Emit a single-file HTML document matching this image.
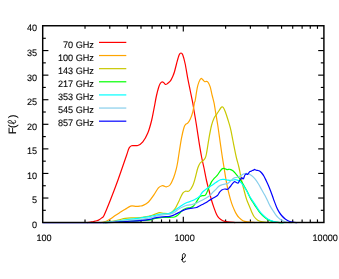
<!DOCTYPE html><html><head><meta charset="utf-8"><style>
html,body{margin:0;padding:0;background:#fff}
#c{position:relative;width:339px;height:279px;overflow:hidden;background:#fff}
svg{display:block}
</style></head><body><div id="c">
<svg width="339" height="279" viewBox="0 0 339 279" style="position:absolute;left:0;top:0">
<g stroke="#000" stroke-width="1.15">
<line x1="85.02" x2="85.02" y1="222.50" y2="219.40"/>
<line x1="85.02" x2="85.02" y1="25.75" y2="28.85"/>
<line x1="109.78" x2="109.78" y1="222.50" y2="219.40"/>
<line x1="109.78" x2="109.78" y1="25.75" y2="28.85"/>
<line x1="127.35" x2="127.35" y1="222.50" y2="219.40"/>
<line x1="127.35" x2="127.35" y1="25.75" y2="28.85"/>
<line x1="140.98" x2="140.98" y1="222.50" y2="219.40"/>
<line x1="140.98" x2="140.98" y1="25.75" y2="28.85"/>
<line x1="152.11" x2="152.11" y1="222.50" y2="219.40"/>
<line x1="152.11" x2="152.11" y1="25.75" y2="28.85"/>
<line x1="161.52" x2="161.52" y1="222.50" y2="219.40"/>
<line x1="161.52" x2="161.52" y1="25.75" y2="28.85"/>
<line x1="169.67" x2="169.67" y1="222.50" y2="219.40"/>
<line x1="169.67" x2="169.67" y1="25.75" y2="28.85"/>
<line x1="176.87" x2="176.87" y1="222.50" y2="219.40"/>
<line x1="176.87" x2="176.87" y1="25.75" y2="28.85"/>
<line x1="183.30" x2="183.30" y1="222.50" y2="216.80"/>
<line x1="183.30" x2="183.30" y1="25.75" y2="31.45"/>
<line x1="225.62" x2="225.62" y1="222.50" y2="219.40"/>
<line x1="225.62" x2="225.62" y1="25.75" y2="28.85"/>
<line x1="250.38" x2="250.38" y1="222.50" y2="219.40"/>
<line x1="250.38" x2="250.38" y1="25.75" y2="28.85"/>
<line x1="267.95" x2="267.95" y1="222.50" y2="219.40"/>
<line x1="267.95" x2="267.95" y1="25.75" y2="28.85"/>
<line x1="281.58" x2="281.58" y1="222.50" y2="219.40"/>
<line x1="281.58" x2="281.58" y1="25.75" y2="28.85"/>
<line x1="292.71" x2="292.71" y1="222.50" y2="219.40"/>
<line x1="292.71" x2="292.71" y1="25.75" y2="28.85"/>
<line x1="302.12" x2="302.12" y1="222.50" y2="219.40"/>
<line x1="302.12" x2="302.12" y1="25.75" y2="28.85"/>
<line x1="310.27" x2="310.27" y1="222.50" y2="219.40"/>
<line x1="310.27" x2="310.27" y1="25.75" y2="28.85"/>
<line x1="317.47" x2="317.47" y1="222.50" y2="219.40"/>
<line x1="317.47" x2="317.47" y1="25.75" y2="28.85"/>
<line x1="42.70" x2="45.80" y1="210.31" y2="210.31"/>
<line x1="323.90" x2="320.80" y1="210.31" y2="210.31"/>
<line x1="42.70" x2="48.40" y1="198.03" y2="198.03"/>
<line x1="323.90" x2="318.20" y1="198.03" y2="198.03"/>
<line x1="42.70" x2="45.80" y1="185.74" y2="185.74"/>
<line x1="323.90" x2="320.80" y1="185.74" y2="185.74"/>
<line x1="42.70" x2="48.40" y1="173.45" y2="173.45"/>
<line x1="323.90" x2="318.20" y1="173.45" y2="173.45"/>
<line x1="42.70" x2="45.80" y1="161.16" y2="161.16"/>
<line x1="323.90" x2="320.80" y1="161.16" y2="161.16"/>
<line x1="42.70" x2="48.40" y1="148.88" y2="148.88"/>
<line x1="323.90" x2="318.20" y1="148.88" y2="148.88"/>
<line x1="42.70" x2="45.80" y1="136.59" y2="136.59"/>
<line x1="323.90" x2="320.80" y1="136.59" y2="136.59"/>
<line x1="42.70" x2="48.40" y1="124.30" y2="124.30"/>
<line x1="323.90" x2="318.20" y1="124.30" y2="124.30"/>
<line x1="42.70" x2="45.80" y1="112.01" y2="112.01"/>
<line x1="323.90" x2="320.80" y1="112.01" y2="112.01"/>
<line x1="42.70" x2="48.40" y1="99.72" y2="99.72"/>
<line x1="323.90" x2="318.20" y1="99.72" y2="99.72"/>
<line x1="42.70" x2="45.80" y1="87.44" y2="87.44"/>
<line x1="323.90" x2="320.80" y1="87.44" y2="87.44"/>
<line x1="42.70" x2="48.40" y1="75.15" y2="75.15"/>
<line x1="323.90" x2="318.20" y1="75.15" y2="75.15"/>
<line x1="42.70" x2="45.80" y1="62.86" y2="62.86"/>
<line x1="323.90" x2="320.80" y1="62.86" y2="62.86"/>
<line x1="42.70" x2="48.40" y1="50.57" y2="50.57"/>
<line x1="323.90" x2="318.20" y1="50.57" y2="50.57"/>
<line x1="42.70" x2="45.80" y1="38.29" y2="38.29"/>
<line x1="323.90" x2="320.80" y1="38.29" y2="38.29"/>
</g>
<g fill="none" stroke-width="1.2" stroke-linejoin="round" stroke-linecap="butt">
<path d="M87.20 222.60 C87.78 222.50 89.62 222.18 90.70 222.00 C91.78 221.82 92.70 221.70 93.70 221.50 C94.70 221.30 95.78 221.10 96.70 220.80 C97.62 220.50 98.37 220.18 99.20 219.70 C100.03 219.22 100.90 218.62 101.70 217.90 C102.50 217.18 102.58 218.30 104.00 215.40 C105.42 212.50 107.90 206.32 110.20 200.50 C112.50 194.68 115.08 188.00 117.80 180.50 C120.52 173.00 124.63 160.88 126.50 155.50 C128.37 150.12 128.17 149.83 129.00 148.20 C129.83 146.57 130.03 146.15 131.50 145.70 C132.97 145.25 135.92 146.13 137.80 145.50 C139.68 144.87 141.13 143.97 142.80 141.90 C144.47 139.83 146.33 136.67 147.80 133.10 C149.27 129.53 150.55 124.67 151.60 120.50 C152.65 116.33 153.30 112.18 154.10 108.10 C154.90 104.02 155.65 99.43 156.40 96.00 C157.15 92.57 157.98 89.53 158.60 87.50 C159.22 85.47 159.57 84.72 160.10 83.80 C160.63 82.88 161.22 82.22 161.80 82.00 C162.38 81.78 162.97 82.08 163.60 82.50 C164.23 82.92 164.95 84.33 165.60 84.50 C166.25 84.67 166.82 83.97 167.50 83.50 C168.18 83.03 169.08 82.35 169.70 81.70 C170.32 81.05 170.72 80.43 171.20 79.60 C171.68 78.77 172.07 77.97 172.60 76.70 C173.13 75.43 173.73 74.20 174.40 72.00 C175.07 69.80 175.82 66.33 176.60 63.50 C177.38 60.67 178.37 56.75 179.10 55.00 C179.83 53.25 180.38 53.00 181.00 53.00 C181.62 53.00 182.10 53.17 182.80 55.00 C183.50 56.83 184.38 60.15 185.20 64.00 C186.02 67.85 186.87 73.68 187.70 78.10 C188.53 82.52 189.35 86.32 190.20 90.50 C191.05 94.68 192.17 99.87 192.80 103.20 C193.43 106.53 193.38 106.78 194.00 110.50 C194.62 114.22 195.67 120.27 196.50 125.50 C197.33 130.73 198.17 136.73 199.00 141.90 C199.83 147.07 200.67 152.15 201.50 156.50 C202.33 160.85 203.17 164.00 204.00 168.00 C204.83 172.00 205.67 176.75 206.50 180.50 C207.33 184.25 208.15 187.17 209.00 190.50 C209.85 193.83 210.75 197.57 211.60 200.50 C212.45 203.43 213.27 205.78 214.10 208.10 C214.93 210.42 215.77 212.72 216.60 214.40 C217.43 216.08 218.07 217.15 219.10 218.20 C220.13 219.25 221.35 220.08 222.80 220.70 C224.25 221.32 225.73 221.58 227.80 221.90 C229.87 222.22 233.97 222.48 235.20 222.60" stroke="#ff0000"/>
<path d="M100.20 222.60 C100.78 222.50 102.53 222.30 103.70 222.00 C104.87 221.70 106.12 221.28 107.20 220.80 C108.28 220.32 108.87 219.98 110.20 219.10 C111.53 218.22 113.53 216.63 115.20 215.50 C116.87 214.37 118.53 213.35 120.20 212.30 C121.87 211.25 123.47 210.23 125.20 209.20 C126.93 208.17 128.80 206.58 130.60 206.10 C132.40 205.62 134.48 206.30 136.00 206.30 C137.52 206.30 138.52 206.25 139.70 206.10 C140.88 205.95 141.63 206.08 143.10 205.40 C144.57 204.72 146.70 203.75 148.50 202.00 C150.30 200.25 152.25 197.25 153.90 194.90 C155.55 192.55 157.07 189.43 158.40 187.90 C159.73 186.37 160.93 186.00 161.90 185.70 C162.87 185.40 163.45 185.92 164.20 186.10 C164.95 186.28 165.43 186.98 166.40 186.80 C167.37 186.62 168.80 186.50 170.00 185.00 C171.20 183.50 172.55 180.48 173.60 177.80 C174.65 175.12 175.62 171.53 176.30 168.90 C176.98 166.27 177.25 164.57 177.70 162.00 C178.15 159.43 178.37 157.48 179.00 153.50 C179.63 149.52 180.67 142.43 181.50 138.10 C182.33 133.77 183.30 129.80 184.00 127.50 C184.70 125.20 185.08 125.03 185.70 124.30 C186.32 123.57 186.95 123.93 187.70 123.10 C188.45 122.27 189.35 121.18 190.20 119.30 C191.05 117.42 192.08 114.60 192.80 111.80 C193.52 109.00 194.10 104.38 194.50 102.50 C194.90 100.62 194.75 102.90 195.20 100.50 C195.65 98.10 196.57 91.20 197.20 88.10 C197.83 85.00 198.37 83.50 199.00 81.90 C199.63 80.30 200.37 78.85 201.00 78.50 C201.63 78.15 202.17 79.27 202.80 79.80 C203.43 80.33 204.18 81.43 204.80 81.70 C205.42 81.97 205.93 81.27 206.50 81.40 C207.07 81.53 207.58 81.58 208.20 82.50 C208.82 83.42 209.53 84.73 210.20 86.90 C210.87 89.07 211.55 92.78 212.20 95.50 C212.85 98.22 213.58 100.70 214.10 103.20 C214.62 105.70 214.68 106.78 215.30 110.50 C215.92 114.22 216.97 120.07 217.80 125.50 C218.63 130.93 219.58 138.10 220.30 143.10 C221.02 148.10 221.47 151.35 222.10 155.50 C222.73 159.65 223.35 163.40 224.10 168.00 C224.85 172.60 225.77 178.72 226.60 183.10 C227.43 187.48 228.27 190.97 229.10 194.30 C229.93 197.63 230.77 200.58 231.60 203.10 C232.43 205.62 233.27 207.52 234.10 209.40 C234.93 211.28 235.77 213.02 236.60 214.40 C237.43 215.78 238.05 216.65 239.10 217.70 C240.15 218.75 241.43 220.00 242.90 220.70 C244.37 221.40 245.85 221.58 247.90 221.90 C249.95 222.22 253.98 222.48 255.20 222.60" stroke="#ffa500"/>
<path d="M103.20 222.60 C104.37 222.45 107.70 222.12 110.20 221.70 C112.70 221.28 115.70 220.67 118.20 220.10 C120.70 219.53 122.87 218.68 125.20 218.30 C127.53 217.92 129.70 217.90 132.20 217.80 C134.70 217.70 137.87 217.88 140.20 217.70 C142.53 217.52 144.53 217.02 146.20 216.70 C147.87 216.38 148.70 216.23 150.20 215.80 C151.70 215.37 153.63 214.63 155.20 214.10 C156.77 213.57 158.13 212.72 159.60 212.60 C161.07 212.48 162.28 213.27 164.00 213.40 C165.72 213.53 168.42 213.78 169.90 213.40 C171.38 213.02 171.92 212.08 172.90 211.10 C173.88 210.12 174.82 209.10 175.80 207.50 C176.78 205.90 177.93 203.35 178.80 201.50 C179.67 199.65 180.27 197.87 181.00 196.40 C181.73 194.93 182.47 193.57 183.20 192.70 C183.93 191.83 184.40 191.50 185.40 191.20 C186.40 190.90 187.97 191.85 189.20 190.90 C190.43 189.95 191.80 187.63 192.80 185.50 C193.80 183.37 194.37 181.02 195.20 178.10 C196.03 175.18 196.97 170.52 197.80 168.00 C198.63 165.48 199.37 164.17 200.20 163.00 C201.03 161.83 201.97 161.83 202.80 161.00 C203.63 160.17 204.58 159.25 205.20 158.00 C205.82 156.75 205.87 156.82 206.50 153.50 C207.13 150.18 208.17 142.77 209.00 138.10 C209.83 133.43 210.65 128.85 211.50 125.50 C212.35 122.15 213.25 119.87 214.10 118.00 C214.95 116.13 215.77 115.55 216.60 114.30 C217.43 113.05 218.27 111.72 219.10 110.50 C219.93 109.28 220.90 107.50 221.60 107.00 C222.30 106.50 222.68 106.70 223.30 107.50 C223.92 108.30 224.55 109.83 225.30 111.80 C226.05 113.77 226.95 116.58 227.80 119.30 C228.65 122.02 229.55 124.57 230.40 128.10 C231.25 131.63 232.07 136.33 232.90 140.50 C233.73 144.67 234.78 150.10 235.40 153.10 C236.02 156.10 235.98 156.02 236.60 158.50 C237.22 160.98 238.27 164.33 239.10 168.00 C239.93 171.67 240.77 176.75 241.60 180.50 C242.43 184.25 243.27 187.35 244.10 190.50 C244.93 193.65 245.77 196.90 246.60 199.40 C247.43 201.90 248.25 203.42 249.10 205.50 C249.95 207.58 250.88 210.07 251.70 211.90 C252.52 213.73 253.00 215.12 254.00 216.50 C255.00 217.88 256.23 219.30 257.70 220.20 C259.17 221.10 260.72 221.50 262.80 221.90 C264.88 222.30 268.97 222.48 270.20 222.60" stroke="#c8c800"/>
<path d="M105.20 222.60 C106.70 222.50 110.87 222.22 114.20 222.00 C117.53 221.78 120.87 221.53 125.20 221.30 C129.53 221.07 136.03 220.85 140.20 220.60 C144.37 220.35 147.70 220.15 150.20 219.80 C152.70 219.45 153.13 218.88 155.20 218.50 C157.27 218.12 160.15 217.70 162.60 217.50 C165.05 217.30 167.93 217.38 169.90 217.30 C171.87 217.22 173.17 217.28 174.40 217.00 C175.63 216.72 176.32 216.33 177.30 215.60 C178.28 214.87 179.32 213.58 180.30 212.60 C181.28 211.62 182.22 210.43 183.20 209.70 C184.18 208.97 184.97 208.57 186.20 208.20 C187.43 207.83 189.38 207.87 190.60 207.50 C191.82 207.13 192.63 206.75 193.50 206.00 C194.37 205.25 195.05 204.12 195.80 203.00 C196.55 201.88 197.27 200.40 198.00 199.30 C198.73 198.20 199.47 197.00 200.20 196.40 C200.93 195.80 201.50 195.95 202.40 195.70 C203.30 195.45 204.58 196.10 205.60 194.90 C206.62 193.70 207.52 190.67 208.50 188.50 C209.48 186.33 210.52 183.62 211.50 181.90 C212.48 180.18 213.42 179.32 214.40 178.20 C215.38 177.08 216.42 176.43 217.40 175.20 C218.38 173.97 219.45 171.90 220.30 170.80 C221.15 169.70 221.77 168.97 222.50 168.60 C223.23 168.23 223.95 168.43 224.70 168.60 C225.45 168.77 226.13 169.48 227.00 169.60 C227.87 169.72 228.92 169.10 229.90 169.30 C230.88 169.50 231.92 170.05 232.90 170.80 C233.88 171.55 234.82 172.68 235.80 173.80 C236.78 174.92 237.82 176.15 238.80 177.50 C239.78 178.85 240.72 180.32 241.70 181.90 C242.68 183.48 243.72 185.28 244.70 187.00 C245.68 188.72 246.72 190.45 247.60 192.20 C248.48 193.95 249.23 195.98 250.00 197.50 C250.77 199.02 251.28 199.83 252.20 201.30 C253.12 202.77 254.35 204.58 255.50 206.30 C256.65 208.02 257.92 210.07 259.10 211.60 C260.28 213.13 261.43 214.37 262.60 215.50 C263.77 216.63 264.93 217.58 266.10 218.40 C267.27 219.22 268.42 219.87 269.60 220.40 C270.78 220.93 271.85 221.28 273.20 221.60 C274.55 221.92 276.03 222.13 277.70 222.30 C279.37 222.47 282.28 222.55 283.20 222.60" stroke="#00ff00"/>
<path d="M103.20 222.60 C104.70 222.45 109.37 222.02 112.20 221.70 C115.03 221.38 118.03 221.02 120.20 220.70 C122.37 220.38 122.70 220.13 125.20 219.80 C127.70 219.47 132.70 219.00 135.20 218.70 C137.70 218.40 138.53 218.25 140.20 218.00 C141.87 217.75 143.53 217.48 145.20 217.20 C146.87 216.92 148.53 216.62 150.20 216.30 C151.87 215.98 153.38 215.67 155.20 215.30 C157.02 214.93 159.13 214.35 161.10 214.10 C163.07 213.85 165.28 214.05 167.00 213.80 C168.72 213.55 170.17 213.17 171.40 212.60 C172.63 212.03 173.17 211.25 174.40 210.40 C175.63 209.55 177.33 208.48 178.80 207.50 C180.27 206.52 181.73 205.37 183.20 204.50 C184.67 203.63 186.12 202.92 187.60 202.30 C189.08 201.68 190.62 201.42 192.10 200.80 C193.58 200.18 195.28 199.33 196.50 198.60 C197.72 197.87 198.38 197.50 199.40 196.40 C200.42 195.30 201.33 193.32 202.60 192.00 C203.87 190.68 205.52 189.57 207.00 188.50 C208.48 187.43 210.02 186.58 211.50 185.60 C212.98 184.62 214.43 183.58 215.90 182.60 C217.37 181.62 218.95 180.23 220.30 179.70 C221.65 179.17 222.77 179.33 224.00 179.40 C225.23 179.47 226.47 179.93 227.70 180.10 C228.93 180.27 230.17 180.47 231.40 180.40 C232.63 180.33 234.00 179.70 235.10 179.70 C236.20 179.70 237.02 179.92 238.00 180.40 C238.98 180.88 240.02 181.62 241.00 182.60 C241.98 183.58 242.92 184.85 243.90 186.30 C244.88 187.75 246.05 189.80 246.90 191.30 C247.75 192.80 248.05 193.72 249.00 195.30 C249.95 196.88 251.42 199.00 252.60 200.80 C253.78 202.60 254.92 204.33 256.10 206.10 C257.28 207.87 258.52 209.87 259.70 211.40 C260.88 212.93 262.03 214.17 263.20 215.30 C264.37 216.43 265.53 217.37 266.70 218.20 C267.87 219.03 269.02 219.75 270.20 220.30 C271.38 220.85 272.47 221.17 273.80 221.50 C275.13 221.83 276.47 222.12 278.20 222.30 C279.93 222.48 283.20 222.55 284.20 222.60" stroke="#00ffff"/>
<path d="M104.20 222.60 C105.53 222.47 108.70 222.15 112.20 221.80 C115.70 221.45 120.53 220.88 125.20 220.50 C129.87 220.12 136.03 219.95 140.20 219.50 C144.37 219.05 147.70 218.33 150.20 217.80 C152.70 217.27 153.13 216.80 155.20 216.30 C157.27 215.80 160.15 215.17 162.60 214.80 C165.05 214.43 167.93 214.52 169.90 214.10 C171.87 213.68 172.92 213.17 174.40 212.30 C175.88 211.43 177.33 209.83 178.80 208.90 C180.27 207.97 181.73 207.32 183.20 206.70 C184.67 206.08 186.12 205.57 187.60 205.20 C189.08 204.83 190.62 204.87 192.10 204.50 C193.58 204.13 195.03 203.62 196.50 203.00 C197.97 202.38 199.45 201.53 200.90 200.80 C202.35 200.07 203.68 199.48 205.20 198.60 C206.72 197.72 208.72 196.57 210.00 195.50 C211.28 194.43 211.92 193.23 212.90 192.20 C213.88 191.17 214.92 190.28 215.90 189.30 C216.88 188.32 217.82 187.05 218.80 186.30 C219.78 185.55 220.82 185.17 221.80 184.80 C222.78 184.43 223.72 184.33 224.70 184.10 C225.68 183.87 226.72 183.90 227.70 183.40 C228.68 182.90 229.62 181.97 230.60 181.10 C231.58 180.23 232.73 178.80 233.60 178.20 C234.47 177.60 235.07 177.70 235.80 177.50 C236.53 177.30 237.27 177.25 238.00 177.00 C238.73 176.75 239.20 176.55 240.20 176.00 C241.20 175.45 242.75 174.12 244.00 173.70 C245.25 173.28 246.45 173.20 247.70 173.50 C248.95 173.80 250.25 174.57 251.50 175.50 C252.75 176.43 253.98 177.60 255.20 179.10 C256.42 180.60 257.72 182.72 258.80 184.50 C259.88 186.28 260.67 187.97 261.70 189.80 C262.73 191.63 264.02 193.67 265.00 195.50 C265.98 197.33 266.73 199.03 267.60 200.80 C268.47 202.57 269.32 204.48 270.20 206.10 C271.08 207.72 272.00 209.08 272.90 210.50 C273.80 211.92 274.72 213.42 275.60 214.60 C276.48 215.78 277.32 216.75 278.20 217.60 C279.08 218.45 279.87 219.05 280.90 219.70 C281.93 220.35 283.22 221.07 284.40 221.50 C285.58 221.93 286.70 222.12 288.00 222.30 C289.30 222.48 291.50 222.55 292.20 222.60" stroke="#87ceeb"/>
<path d="M42.70 222.60 C53.28 222.60 93.95 222.68 106.20 222.60 C118.45 222.52 113.03 222.28 116.20 222.10 C119.37 221.92 121.20 221.73 125.20 221.50 C129.20 221.27 136.03 221.07 140.20 220.70 C144.37 220.33 147.70 219.78 150.20 219.30 C152.70 218.82 153.13 218.22 155.20 217.80 C157.27 217.38 160.15 217.05 162.60 216.80 C165.05 216.55 167.93 216.63 169.90 216.30 C171.87 215.97 172.92 215.42 174.40 214.80 C175.88 214.18 177.33 213.33 178.80 212.60 C180.27 211.87 181.73 211.02 183.20 210.40 C184.67 209.78 186.12 209.27 187.60 208.90 C189.08 208.53 190.62 208.43 192.10 208.20 C193.58 207.97 195.28 207.87 196.50 207.50 C197.72 207.13 198.42 206.50 199.40 206.00 C200.38 205.50 201.43 205.00 202.40 204.50 C203.37 204.00 204.07 203.67 205.20 203.00 C206.33 202.33 207.87 201.33 209.20 200.50 C210.53 199.67 211.83 198.83 213.20 198.00 C214.57 197.17 216.33 196.47 217.40 195.50 C218.47 194.53 218.87 193.12 219.60 192.20 C220.33 191.28 220.95 190.53 221.80 190.00 C222.65 189.47 223.72 189.12 224.70 189.00 C225.68 188.88 226.83 189.63 227.70 189.30 C228.57 188.97 229.17 187.87 229.90 187.00 C230.63 186.13 231.37 184.98 232.10 184.10 C232.83 183.22 233.73 182.05 234.30 181.70 C234.87 181.35 234.87 181.77 235.50 182.00 C236.13 182.23 237.45 183.32 238.10 183.10 C238.75 182.88 239.02 181.30 239.40 180.70 C239.78 180.10 240.00 180.00 240.40 179.50 C240.80 179.00 241.32 177.80 241.80 177.70 C242.28 177.60 242.80 179.32 243.30 178.90 C243.80 178.48 244.30 176.03 244.80 175.20 C245.30 174.37 245.82 174.02 246.30 173.90 C246.78 173.78 247.28 174.68 247.70 174.50 C248.12 174.32 248.43 173.30 248.80 172.80 C249.17 172.30 249.50 171.75 249.90 171.50 C250.30 171.25 250.82 171.47 251.20 171.30 C251.58 171.13 251.83 170.67 252.20 170.50 C252.57 170.33 253.03 170.48 253.40 170.30 C253.77 170.12 254.00 169.45 254.40 169.40 C254.80 169.35 255.32 169.83 255.80 170.00 C256.28 170.17 256.68 170.25 257.30 170.40 C257.92 170.55 258.77 170.47 259.50 170.90 C260.23 171.33 260.95 172.10 261.70 173.00 C262.45 173.90 263.25 175.02 264.00 176.30 C264.75 177.58 265.47 179.17 266.20 180.70 C266.93 182.23 267.67 183.78 268.40 185.50 C269.13 187.22 269.87 189.08 270.60 191.00 C271.33 192.92 272.23 195.42 272.80 197.00 C273.37 198.58 273.38 198.85 274.00 200.50 C274.62 202.15 275.67 205.00 276.50 206.90 C277.33 208.80 278.15 210.47 279.00 211.90 C279.85 213.33 280.57 214.33 281.60 215.50 C282.63 216.67 283.95 217.95 285.20 218.90 C286.45 219.85 287.83 220.65 289.10 221.20 C290.37 221.75 291.45 221.97 292.80 222.20 C294.15 222.43 296.47 222.53 297.20 222.60" stroke="#0000ff"/>
</g>
<g stroke-width="1.2">
<line x1="99" x2="126.3" y1="42.40" y2="42.40" stroke="#ff0000"/>
<line x1="99" x2="126.3" y1="55.53" y2="55.53" stroke="#ffa500"/>
<line x1="99" x2="126.3" y1="68.66" y2="68.66" stroke="#c8c800"/>
<line x1="99" x2="126.3" y1="81.79" y2="81.79" stroke="#00ff00"/>
<line x1="99" x2="126.3" y1="94.92" y2="94.92" stroke="#00ffff"/>
<line x1="99" x2="126.3" y1="108.05" y2="108.05" stroke="#87ceeb"/>
<line x1="99" x2="126.3" y1="121.18" y2="121.18" stroke="#0000ff"/>
</g>
<g stroke="#000" stroke-width="1.45" fill="none">
<rect x="42.70" y="25.75" width="281.20" height="196.75"/>
</g>
<g font-family="Liberation Sans, sans-serif" font-size="9.3" fill="#000" stroke="#000" stroke-width="0.12" text-rendering="geometricPrecision" opacity="0.999">
<text transform="translate(37.10 227.95) scale(0.980 1)" text-anchor="end">0</text>
<text transform="translate(37.10 203.38) scale(0.980 1)" text-anchor="end">5</text>
<text transform="translate(37.10 178.80) scale(0.980 1)" text-anchor="end">10</text>
<text transform="translate(37.10 154.22) scale(0.980 1)" text-anchor="end">15</text>
<text transform="translate(37.10 129.65) scale(0.980 1)" text-anchor="end">20</text>
<text transform="translate(37.10 105.07) scale(0.980 1)" text-anchor="end">25</text>
<text transform="translate(37.10 80.50) scale(0.980 1)" text-anchor="end">30</text>
<text transform="translate(37.10 55.92) scale(0.980 1)" text-anchor="end">35</text>
<text transform="translate(37.10 31.35) scale(0.980 1)" text-anchor="end">40</text>
<text transform="translate(44.00 240.70) scale(0.980 1)" text-anchor="middle">100</text>
<text transform="translate(184.60 240.70) scale(0.980 1)" text-anchor="middle">1000</text>
<text transform="translate(325.20 240.70) scale(0.980 1)" text-anchor="middle">10000</text>
<text transform="translate(93.90 47.50) scale(0.980 1)" text-anchor="end">70 GHz</text>
<text transform="translate(93.90 60.63) scale(0.980 1)" text-anchor="end">100 GHz</text>
<text transform="translate(93.90 73.76) scale(0.980 1)" text-anchor="end">143 GHz</text>
<text transform="translate(93.90 86.89) scale(0.980 1)" text-anchor="end">217 GHz</text>
<text transform="translate(93.90 100.02) scale(0.980 1)" text-anchor="end">353 GHz</text>
<text transform="translate(93.90 113.15) scale(0.980 1)" text-anchor="end">545 GHz</text>
<text transform="translate(93.90 126.28) scale(0.980 1)" text-anchor="end">857 GHz</text>
<g transform="translate(15.6 133.9) rotate(-90)" font-size="10.7"><text x="0" y="0">F</text><text x="6.0" y="0">(</text><text x="15.6" y="0">)</text></g>
<path transform="translate(15.60 123.80) rotate(-90) scale(0.900)" d="M3.94 -0.78 C3.2 -0.1 2.6 0.1 2.04 0.05 C1.2 -0.05 0.8 -0.6 0.8 -1.5 L0.8 -5.7 C0.8 -7 1.1 -8.0 1.8 -8.3 C2.6 -8.6 3.6 -8.2 3.7 -7.0 C3.75 -6.2 3.5 -5.5 3.1 -4.9 C2.6 -4.2 2.2 -3.7 1.6 -3.26 C1.0 -2.8 0.4 -2.5 -0.2 -2.26" fill="none" stroke="#000" stroke-width="1.0" stroke-linecap="round" stroke-linejoin="round"/>
<path transform="translate(181.60 262.00) rotate(0) scale(1.000)" d="M3.94 -0.78 C3.2 -0.1 2.6 0.1 2.04 0.05 C1.2 -0.05 0.8 -0.6 0.8 -1.5 L0.8 -5.7 C0.8 -7 1.1 -8.0 1.8 -8.3 C2.6 -8.6 3.6 -8.2 3.7 -7.0 C3.75 -6.2 3.5 -5.5 3.1 -4.9 C2.6 -4.2 2.2 -3.7 1.6 -3.26 C1.0 -2.8 0.4 -2.5 -0.2 -2.26" fill="none" stroke="#000" stroke-width="1.0" stroke-linecap="round" stroke-linejoin="round"/>
</g>
</svg>
</div></body></html>
